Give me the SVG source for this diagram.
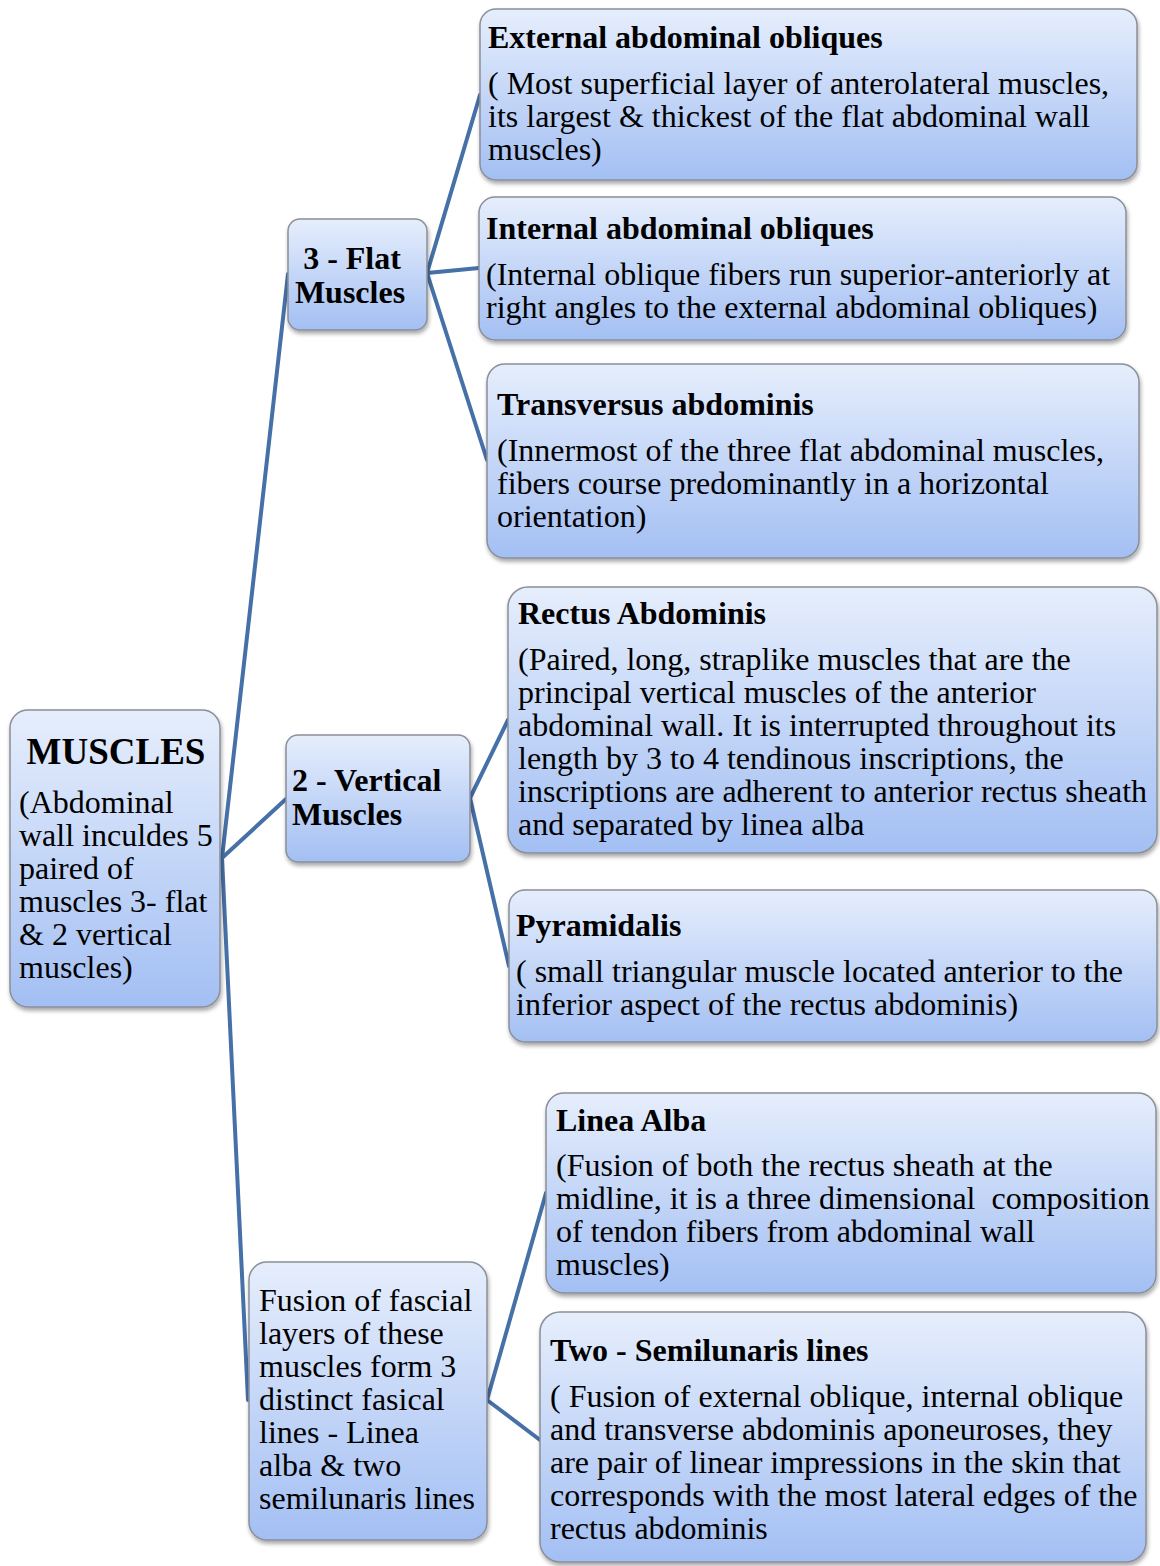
<svg xmlns="http://www.w3.org/2000/svg" width="1160" height="1566" viewBox="0 0 1160 1566">
<defs>
<linearGradient id="g" x1="0" y1="0" x2="0" y2="1">
<stop offset="0" stop-color="#e6eefc"/>
<stop offset="1" stop-color="#a3bff3"/>
</linearGradient>
<filter id="sh" x="-10%" y="-10%" width="120%" height="120%">
<feGaussianBlur in="SourceAlpha" stdDeviation="2"/>
<feOffset dx="1" dy="3" result="b"/>
<feComponentTransfer><feFuncA type="linear" slope="0.35"/></feComponentTransfer>
<feMerge><feMergeNode/><feMergeNode in="SourceGraphic"/></feMerge>
</filter>
</defs>
<style>
.box{fill:url(#g);stroke:#8a8f98;stroke-width:1.5;filter:url(#sh)}
.t{font-family:"Liberation Serif","Times New Roman",serif;font-size:32px;fill:#000}
.b{font-weight:bold}
.big{font-size:37px}
.c{stroke:#4670a8;stroke-width:4;fill:none;stroke-linecap:round}
</style>
<g id="connectors">
<line class="c" x1="222" y1="858" x2="288" y2="274"/>
<line class="c" x1="222" y1="858" x2="286" y2="799"/>
<line class="c" x1="222" y1="858" x2="248" y2="1400"/>
<line class="c" x1="427" y1="273" x2="480" y2="95"/>
<line class="c" x1="427" y1="273" x2="479" y2="268"/>
<line class="c" x1="427" y1="273" x2="487" y2="460"/>
<line class="c" x1="470" y1="798" x2="508" y2="720"/>
<line class="c" x1="470" y1="798" x2="509" y2="966"/>
<line class="c" x1="487" y1="1400" x2="546" y2="1193"/>
<line class="c" x1="487" y1="1400" x2="540" y2="1440"/>
</g>
<g id="muscles">
<rect class="box" x="10" y="710" width="210" height="297" rx="18"/>
<text class="t b big" x="116" y="764" text-anchor="middle">MUSCLES</text>
<text class="t" x="19" y="813">(Abdominal</text>
<text class="t" x="19" y="846">wall inculdes 5</text>
<text class="t" x="19" y="879">paired of</text>
<text class="t" x="19" y="912">muscles 3- flat</text>
<text class="t" x="19" y="945">&amp; 2 vertical</text>
<text class="t" x="19" y="978">muscles)</text>
</g>
<g id="flat">
<rect class="box" x="288" y="219" width="139" height="111" rx="12"/>
<text class="t b" x="352" y="269" text-anchor="middle">3 - Flat</text>
<text class="t b" x="350" y="303" text-anchor="middle">Muscles</text>
</g>
<g id="vertical">
<rect class="box" x="286" y="735" width="184" height="127" rx="12"/>
<text class="t b" x="292" y="791">2 - Vertical</text>
<text class="t b" x="292" y="825">Muscles</text>
</g>
<g id="fusion">
<rect class="box" x="249" y="1262" width="238" height="278" rx="18"/>
<text class="t" x="259" y="1311">Fusion of fascial</text>
<text class="t" x="259" y="1344">layers of these</text>
<text class="t" x="259" y="1377">muscles form 3</text>
<text class="t" x="259" y="1410">distinct fasical</text>
<text class="t" x="259" y="1443">lines - Linea</text>
<text class="t" x="259" y="1476">alba &amp; two</text>
<text class="t" x="259" y="1509">semilunaris lines</text>
</g>
<g id="external">
<rect class="box" x="480" y="9" width="657" height="171" rx="16"/>
<text class="t b" x="488" y="48">External abdominal obliques</text>
<text class="t" x="488" y="94">( Most superficial layer of anterolateral muscles,</text>
<text class="t" x="488" y="127">its largest &amp; thickest of the flat abdominal wall</text>
<text class="t" x="488" y="160">muscles)</text>
</g>
<g id="internal">
<rect class="box" x="479" y="197" width="647" height="143" rx="16"/>
<text class="t b" x="486" y="239">Internal abdominal obliques</text>
<text class="t" x="486" y="285">(Internal oblique fibers run superior-anteriorly at</text>
<text class="t" x="486" y="318">right angles to the external abdominal obliques)</text>
</g>
<g id="transversus">
<rect class="box" x="487" y="364" width="652" height="194" rx="18"/>
<text class="t b" x="497" y="415">Transversus abdominis</text>
<text class="t" x="497" y="461">(Innermost of the three flat abdominal muscles,</text>
<text class="t" x="497" y="494">fibers course predominantly in a horizontal</text>
<text class="t" x="497" y="527">orientation)</text>
</g>
<g id="rectus">
<rect class="box" x="508" y="587" width="649" height="266" rx="20"/>
<text class="t b" x="518" y="624">Rectus Abdominis</text>
<text class="t" x="518" y="670">(Paired, long, straplike muscles that are the</text>
<text class="t" x="518" y="703">principal vertical muscles of the anterior</text>
<text class="t" x="518" y="736">abdominal wall. It is interrupted throughout its</text>
<text class="t" x="518" y="769">length by 3 to 4 tendinous inscriptions, the</text>
<text class="t" x="518" y="802">inscriptions are adherent to anterior rectus sheath</text>
<text class="t" x="518" y="835">and separated by linea alba</text>
</g>
<g id="pyramidalis">
<rect class="box" x="509" y="890" width="648" height="152" rx="16"/>
<text class="t b" x="516" y="936">Pyramidalis</text>
<text class="t" x="516" y="982">( small triangular muscle located anterior to the</text>
<text class="t" x="516" y="1015">inferior aspect of the rectus abdominis)</text>
</g>
<g id="linea">
<rect class="box" x="546" y="1093" width="610" height="200" rx="18"/>
<text class="t b" x="556" y="1131">Linea Alba</text>
<text class="t" x="556" y="1176">(Fusion of both the rectus sheath at the</text>
<text class="t" x="556" y="1209" xml:space="preserve">midline, it is a three dimensional  composition</text>
<text class="t" x="556" y="1242">of tendon fibers from abdominal wall</text>
<text class="t" x="556" y="1275">muscles)</text>
</g>
<g id="semilunaris">
<rect class="box" x="540" y="1312" width="606" height="250" rx="20"/>
<text class="t b" x="550" y="1361">Two - Semilunaris lines</text>
<text class="t" x="550" y="1407">( Fusion of external oblique, internal oblique</text>
<text class="t" x="550" y="1440">and transverse abdominis aponeuroses, they</text>
<text class="t" x="550" y="1473">are pair of linear impressions in the skin that</text>
<text class="t" x="550" y="1506">corresponds with the most lateral edges of the</text>
<text class="t" x="550" y="1539">rectus abdominis</text>
</g>
</svg>
